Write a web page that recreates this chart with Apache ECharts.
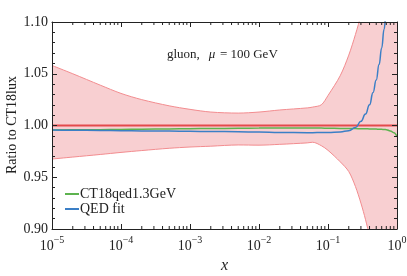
<!DOCTYPE html>
<html><head><meta charset="utf-8">
<script src="https://cdn.jsdelivr.net/npm/echarts@6/dist/echarts.min.js"></script>
<style>html,body{margin:0;padding:0;background:#fff}#c{width:407px;height:276px}</style>
</head><body><div id="c"></div>
<script>
const xs = [1e-5, 2e-5, 5e-5, 1e-4, 2e-4, 5e-4, 1e-3, 2e-3, 5e-3, 1e-2, 2e-2, 5e-2, 0.06, 0.08, 0.1, 0.15, 0.2, 0.25, 0.3, 0.35, 0.4, 0.45, 0.5, 0.55, 0.6, 0.65, 0.7, 0.8, 0.9, 1.0];
const bandUpper = [1.058,1.050,1.039,1.031,1.025,1.019,1.0156,1.013,1.012,1.013,1.015,1.017,1.0178,1.020,1.029,1.048,1.068,1.088,1.107,1.13,1.16,1.19,1.22,1.26,1.30,1.34,1.38,1.48,1.6,1.75];
const bandLower = [0.9676,0.9695,0.972,0.974,0.9758,0.978,0.9792,0.980,0.9812,0.981,0.9818,0.9832,0.9838,0.9805,0.976,0.965,0.9555,0.941,0.925,0.909,0.892,0.867,0.835,0.80,0.77,0.74,0.70,0.62,0.52,0.4];
const ct18qed = [0.9957,0.9958,0.996,0.9962,0.9964,0.9967,0.9969,0.9971,0.9973,0.9975,0.9976,0.9976,0.9976,0.9975,0.9974,0.9972,0.9971,0.997,0.9969,0.9968,0.9967,0.9966,0.9965,0.9964,0.9963,0.9962,0.996,0.9948,0.993,0.989];
const qedFit = [0.9956,0.9954,0.9952,0.995,0.9948,0.9946,0.9944,0.9942,0.9940,0.9936,0.9932,0.9931,0.9931,0.9932,0.9933,0.9938,0.995,0.998,1.004,1.011,1.020,1.032,1.044,1.059,1.075,1.093,1.112,1.16,1.22,1.3];
const refX = [1e-5, 1];
const refY = [1.0, 1.0];
const yTicks = ['0.90','0.95','1.00','1.05','1.10'];
const seriesNames = ['CT18qed1.3GeV', 'QED fit'];
const titleText = ['gluon,', 'μ', '= 100 GeV'];
const yName = 'Ratio to CT18lux';

const FONT = 'Liberation Serif';
const AX = '#222';
const minorXs = [];
for (let e = -5; e < 0; e++) for (let k = 2; k <= 9; k++) minorXs.push([k * Math.pow(10, e), 1.0]);

function xLabel(v) {
  const e = Math.round(Math.log10(v));
  return '{b|10}{s|' + (e < 0 ? '−' + (-e) : e) + '}';
}

const chart = echarts.init(document.getElementById('c'), null, {renderer: 'canvas'});
function xa() { return {
  type: 'log', logBase: 10, min: 1e-5, max: 1, z: 10,
  axisLine: {show: true, onZero: false, lineStyle: {color: AX, width: 1}},
  axisTick: {show: true, inside: true, length: 5, lineStyle: {color: AX, width: 1}},
  splitLine: {show: false}, minorSplitLine: {show: false}
};}
function ya() { return {
  type: 'value', min: 0.9, max: 1.1, interval: 0.05, z: 10,
  axisLine: {show: true, onZero: false, lineStyle: {color: AX, width: 1}},
  axisTick: {show: true, inside: true, length: 5, lineStyle: {color: AX, width: 1}},
  minorTick: {show: true, splitNumber: 5, length: 3, lineStyle: {color: AX, width: 1}},
  splitLine: {show: false}, minorSplitLine: {show: false}
};}
const option = {
  animation: false,
  backgroundColor: '#fff',
  textStyle: {fontFamily: FONT},
  grid: {left: 52, right: 10, top: 22, bottom: 47, containLabel: false, outerBoundsMode: 'none'},
  graphic: [{
    type: 'text', x: 12, y: 125, rotation: Math.PI / 2, z: 20,
    style: {text: yName, fontFamily: FONT, fontSize: 14, fill: '#222', align: 'center', verticalAlign: 'middle'}
  }],
  title: {
    text: '{a|' + titleText[0] + '}  {m|' + titleText[1] + '} {a|' + titleText[2] + '}',
    left: 162, top: 41,
    textStyle: {fontWeight: 'normal', rich: {
      a: {fontFamily: FONT, fontSize: 13, fontWeight: 'normal', color: '#222'},
      m: {fontFamily: FONT, fontSize: 13, fontWeight: 'normal', fontStyle: 'italic', color: '#222'}}}
  },
  legend: {
    data: seriesNames, orient: 'vertical', left: 60, top: 182,
    icon: 'rect', itemWidth: 14, itemHeight: 2, itemGap: 1,
    textStyle: {fontFamily: FONT, fontSize: 14, lineHeight: 14, color: '#222', padding: [0,0,0,-4]},
    selectedMode: false
  },
  xAxis: [
    Object.assign(xa(), {
      position: 'bottom',
      name: 'x', nameLocation: 'middle', nameGap: 29,
      nameTextStyle: {fontFamily: FONT, fontSize: 16, fontStyle: 'italic', color: '#222'},
      axisLabel: {
        show: true, margin: 6, formatter: xLabel,
        rich: {
          b: {fontFamily: FONT, fontSize: 14, color: '#222', verticalAlign: 'bottom', lineHeight: 18},
          s: {fontFamily: FONT, fontSize: 10, color: '#222', verticalAlign: 'top', lineHeight: 18}
        }
      }
    }),
    Object.assign(xa(), {position: 'top', axisLabel: {show: false}})
  ],
  yAxis: [
    Object.assign(ya(), {
      position: 'left',
      axisLabel: {show: true, margin: 4, fontFamily: FONT, fontSize: 14, color: '#222',
        formatter: v => yTicks.find(t => Math.abs(parseFloat(t) - v) < 1e-6) || ''}
    }),
    Object.assign(ya(), {position: 'right', axisLabel: {show: false}})
  ],
  series: [
    {
      name: 'bandUpper', type: 'line', symbol: 'none', smooth: 0.3,
      data: xs.map((x, i) => [x, bandUpper[i]]),
      lineStyle: {width: 0},
      areaStyle: {color: '#f8cfd1', opacity: 1, origin: 'start'}, z: 1, silent: true
    },
    {
      name: 'bandLowerMask', type: 'line', symbol: 'none', smooth: 0.3,
      data: xs.map((x, i) => [x, bandLower[i]]),
      lineStyle: {width: 0},
      areaStyle: {color: '#ffffff', opacity: 1, origin: 'start'}, z: 1.5, silent: true
    },
    {
      name: 'bandUpperEdge', type: 'line', symbol: 'none', smooth: 0.3,
      data: xs.map((x, i) => [x, bandUpper[i]]),
      lineStyle: {color: '#f28c8f', width: 1}, z: 2, silent: true
    },
    {
      name: 'bandLowerEdge', type: 'line', symbol: 'none', smooth: 0.3,
      data: xs.map((x, i) => [x, bandLower[i]]),
      lineStyle: {color: '#f28c8f', width: 1}, z: 2, silent: true
    },
    {
      name: 'CT18lux', type: 'line', symbol: 'none',
      data: refX.map((x, i) => [x, refY[i]]),
      lineStyle: {color: '#e34a4c', width: 2}, z: 3
    },
    {
      name: seriesNames[0], type: 'line', symbol: 'none', smooth: true, smoothMonotone: 'x',
      data: xs.map((x, i) => [x, ct18qed[i]]),
      itemStyle: {color: '#5db34f'},
      lineStyle: {color: '#5db34f', width: 1.5}, z: 4
    },
    {
      name: seriesNames[1], type: 'line', symbol: 'none', smooth: true, smoothMonotone: 'x',
      data: xs.map((x, i) => [x, qedFit[i]]),
      itemStyle: {color: '#3b7fc6'},
      lineStyle: {color: '#3b7fc6', width: 1.5}, z: 5
    },
    {
      name: 'minorTicks', type: 'custom', data: minorXs, z: 10, silent: true, clip: false,
      renderItem: function (params, api) {
        const x = api.value(0);
        const b = api.coord([x, 0.9]);
        const t = api.coord([x, 1.1]);
        return {type: 'group', children: [
          {type: 'line', shape: {x1: b[0], y1: b[1], x2: b[0], y2: b[1] - 3}, style: {stroke: AX, lineWidth: 1}},
          {type: 'line', shape: {x1: t[0], y1: t[1], x2: t[0], y2: t[1] + 3}, style: {stroke: AX, lineWidth: 1}}
        ]};
      }
    }
  ]
};
chart.setOption(option);
</script></body></html>
